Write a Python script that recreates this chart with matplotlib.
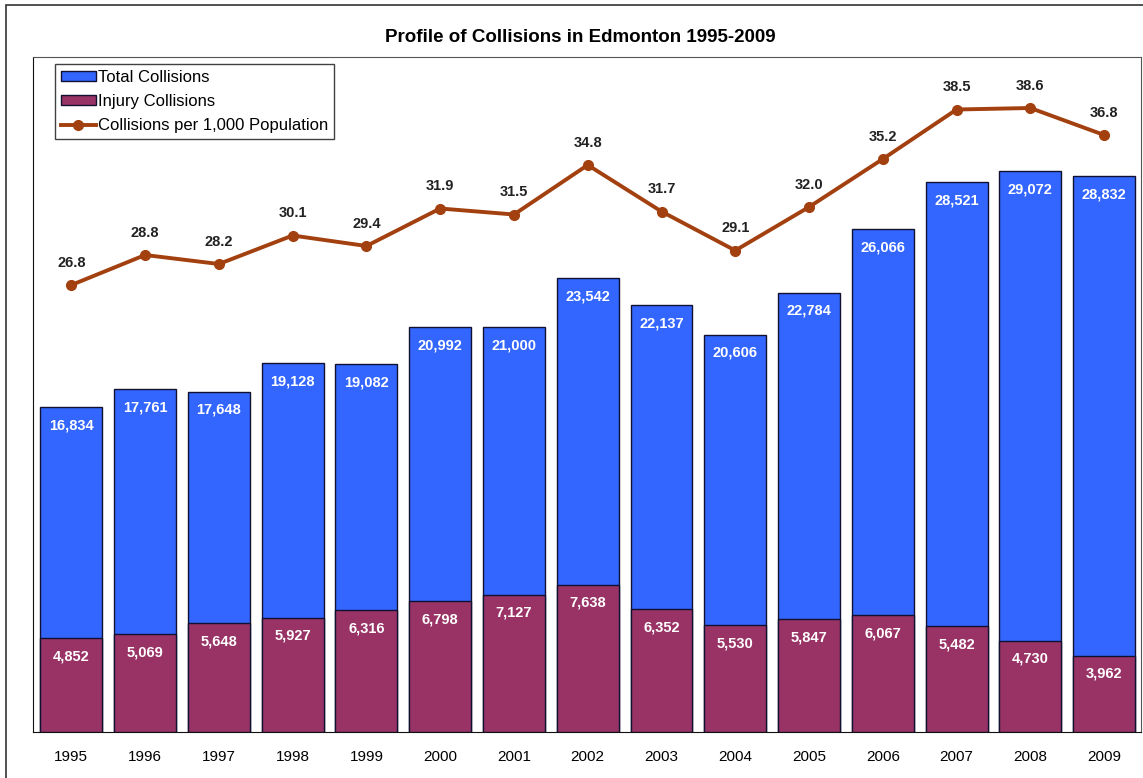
import numpy as np
import matplotlib
matplotlib.use("Agg")
import matplotlib.pyplot as plt
from matplotlib.patches import Rectangle

plt.rcParams["font.family"] = ["Liberation Sans", "DejaVu Sans"]

years = ["1995", "1996", "1997", "1998", "1999", "2000", "2001", "2002",
         "2003", "2004", "2005", "2006", "2007", "2008", "2009"]
total = [16834, 17761, 17648, 19128, 19082, 20992, 21000, 23542,
         22137, 20606, 22784, 26066, 28521, 29072, 28832]
injury = [4852, 5069, 5648, 5927, 6316, 6798, 7127, 7638,
          6352, 5530, 5847, 6067, 5482, 4730, 3962]
rate = [26.8, 28.8, 28.2, 30.1, 29.4, 31.9, 31.5, 34.8,
        31.7, 29.1, 32.0, 35.2, 38.5, 38.6, 36.8]

BLUE = "#3366ff"
PURPLE = "#993366"
LINE = "#a3400f"
EDGE = "#101030"

fig = plt.figure(figsize=(11.43, 7.78), dpi=100)
W, H = 1143, 778
ax = fig.add_axes([33 / W, 1 - 732 / H, (1141 - 33) / W, (732 - 57) / H])

x = np.arange(len(years))
bw = 0.84
b1 = ax.bar(x, total, bw, color=BLUE, edgecolor=EDGE, linewidth=1.0,
            label="Total Collisions", zorder=2)
b2 = ax.bar(x, injury, bw, color=PURPLE, edgecolor=EDGE, linewidth=1.0,
            label="Injury Collisions", zorder=3)
ax.set_xlim(-0.52, 14.5)
ax.set_ylim(0, 35000)
ax.set_yticks([])
ax.set_xticks(x)
ax.set_xticklabels(years, fontsize=11)
ax.tick_params(axis="x", length=0, pad=13)
for s in ["left", "bottom"]:
    ax.spines[s].set_color("#111111")
for s in ["top", "right"]:
    ax.spines[s].set_color("#555555")

for xi, t, inj in zip(x, total, injury):
    ax.annotate(f"{t:,}", (xi, t), xytext=(0, -8), textcoords="offset points",
                ha="center", va="top", color="white", fontsize=10.5,
                fontweight="bold", zorder=5)
    ax.annotate(f"{inj:,}", (xi, inj), xytext=(0, -8), textcoords="offset points",
                ha="center", va="top", color="white", fontsize=10.5,
                fontweight="bold", zorder=5)

ax2 = ax.twinx()
ax2.set_ylim(-3, 42)
ln, = ax2.plot(x, rate, color=LINE, linewidth=2.8, marker="o", markersize=7,
               label="Collisions per 1,000 Population", zorder=4)
ax2.set_yticks([])
for s in ax2.spines.values():
    s.set_visible(False)
for xi, r in zip(x, rate):
    ax2.annotate(f"{r:.1f}", (xi, r), xytext=(0, 11), textcoords="offset points",
                 ha="center", va="bottom", color="#222222", fontsize=10.5,
                 fontweight="bold")

leg = ax2.legend([b1, b2, ln], ["Total Collisions", "Injury Collisions",
                                "Collisions per 1,000 Population"],
                 loc="upper left", bbox_to_anchor=(22 / 1108, 1 - 7 / 675),
                 fontsize=12, frameon=True, fancybox=False, handlelength=2.1,
                 handleheight=0.6, handletextpad=0.15, borderpad=0.35,
                 labelspacing=0.55, borderaxespad=0)
leg.get_frame().set_edgecolor("#111111")
leg.get_frame().set_linewidth(1.0)

fig.text(580 / W, 1 - 37 / H, "Profile of Collisions in Edmonton 1995-2009",
         ha="center", va="center", fontsize=13.5, fontweight="bold")

fig.patches.append(Rectangle((6 / W, -0.05), 1.2, 1 - 5 / H + 0.05,
                             transform=fig.transFigure, fill=False,
                             edgecolor="#333333", linewidth=1.2))

plt.savefig("out.png", dpi=100)
